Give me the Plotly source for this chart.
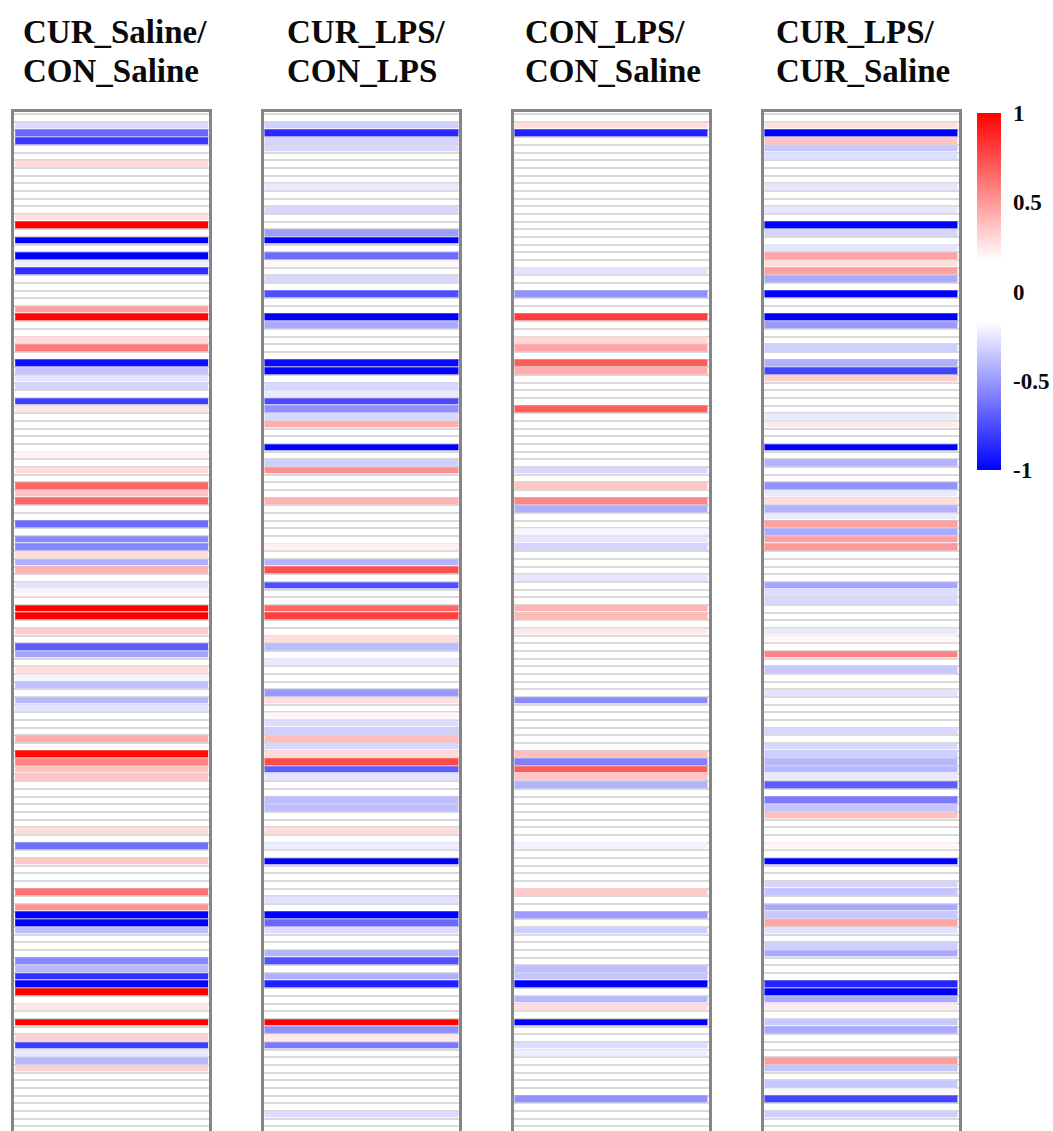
import plotly.graph_objects as go

titles = [["CUR_Saline/", "CON_Saline"], ["CUR_LPS/", "CON_LPS"],
          ["CON_LPS/", "CON_Saline"], ["CUR_LPS/", "CUR_Saline"]]
title_x = [21, 285, 523, 774]
frame_l = [14.2, 263.5, 513.5, 763.5]
frame_r = [209.2, 459.2, 708.5, 958.5]

cur_saline_con_saline = [
 0,-.29,-.66,-.82,0,0,.29,0,0,0,
 0,0,0,.27,1,0,-1,0,-1,-.23,
 -.85,0,0,0,0,.48,.98,0,0,.29,
 .6,0,-.95,-.36,-.26,-.31,0,-.8,.26,0,
 0,0,0,0,.21,0,.28,0,.67,.37,
 .67,0,0,-.65,0,-.56,-.56,.28,-.43,.42,
 0,-.26,.2,0,1,1,0,.34,0,-.7,
 -.46,0,.28,-.21,-.37,0,-.4,-.27,0,0,
 0,.44,0,.97,.58,.37,.37,0,0,0,
 0,0,0,.28,0,-.63,0,.36,0,0,
 0,.63,0,.53,-1,-1,-.38,0,0,0,
 -.56,-.4,-.85,-1,1,0,.25,0,1,0,
 .32,-.8,-.24,-.4,.32,0,0,0,0,0,
 0,0,0]
cur_lps_con_lps = [
 0,-.33,-.87,-.31,-.3,0,0,0,0,-.24,
 0,0,-.3,0,0,-.49,-1,0,-.65,.2,
 0,-.3,0,-.74,0,0,-1,-.45,0,0,
 0,0,-.97,-1,0,-.3,-.24,-.76,-.53,-.3,
 .44,0,0,-1,0,-.33,.53,0,0,0,
 .42,0,0,0,0,0,.22,0,-.42,.74,
 0,-.74,0,0,.67,.8,0,0,.28,-.39,
 0,-.24,0,0,0,-.5,.28,0,.2,-.28,
 -.33,.38,-.3,.29,.76,-.7,-.26,0,0,-.38,
 -.38,0,0,.28,0,-.23,0,-1,0,0,
 0,0,-.27,0,-1,-.66,-.28,0,0,-.42,
 -.74,0,-.43,-.9,0,0,0,0,1,-.53,
 .24,-.6,0,0,0,0,0,0,0,0,
 -.28,0,0]
con_lps_con_saline = [
 0,.28,-.9,0,0,0,0,0,0,0,
 0,0,0,0,0,0,0,0,0,0,
 -.26,0,0,-.53,0,0,.8,0,0,.3,
 .46,0,.7,.44,0,0,0,0,.7,0,
 0,0,0,0,0,0,-.3,0,.36,0,
 .56,-.43,0,0,-.2,-.25,-.31,0,0,0,
 -.25,0,0,0,.42,.4,0,.25,0,0,
 0,0,0,0,0,0,-.55,0,0,0,
 0,0,0,.38,-.58,.7,.36,-.42,0,0,
 0,0,0,0,0,-.21,0,0,0,0,
 0,.34,0,0,-.49,0,-.33,0,0,0,
 0,-.38,-.36,-1,0,-.4,.28,0,-1,0,
 0,-.28,-.23,0,0,0,0,0,-.53,0,
 0,0,0]
cur_lps_cur_saline = [
 0,.27,-1,.36,-.35,-.28,0,0,0,-.25,
 0,0,-.25,0,-1,-.31,0,-.25,.46,.28,
 .48,-.45,0,-1,0,0,-1,-.5,0,0,
 -.33,0,-.43,-.78,.34,0,0,0,0,-.24,
 .24,0,0,-1,0,-.42,0,0,-.52,-.24,
 .28,-.42,-.24,.48,-.45,.48,.5,0,0,0,
 0,-.46,-.28,-.3,0,0,0,-.24,.2,0,
 .58,0,-.35,0,0,-.26,0,0,0,0,
 -.3,0,-.3,-.33,-.4,-.4,-.24,-.7,0,-.6,
 -.36,.37,0,0,0,.2,0,-1,0,0,
 -.31,-.36,0,-.45,-.35,.46,-.27,0,-.33,-.45,
 0,0,0,-.88,-1,-.45,.23,0,-.35,-.45,
 0,0,0,.48,-.36,0,-.35,-.2,-.78,0,
 -.33,0,0]
panels = [cur_saline_con_saline, cur_lps_con_lps, con_lps_con_saline, cur_lps_cur_saline]

color_ticks = [-1, -0.5, 0, 0.5, 1]
W, H = 1053, 1131
TOP = 112.2
FONT = "Liberation Serif"

def t(v):
    return (v + 1) / 2

colorscale = [[t(-1), "#0000ff"], [t(-0.5), "#9999ff"], [t(-0.2), "#f6f6ff"], [t(-0.17), "#ffffff"],
              [t(0.17), "#ffffff"], [t(0.2), "#fff6f6"], [t(0.5), "#ff9999"], [t(1), "#ff0000"]]

fig = go.Figure()
layout = {}
annotations = []
for i, vals in enumerate(panels):
    suffix = "" if i == 0 else str(i + 1)
    fig.add_trace(go.Heatmap(
        # zero rows stay empty so the white ground and full separator lines show through
        z=[[v if v != 0 else None] for v in vals], x=[0], y=list(range(len(vals))),
        coloraxis="coloraxis", ygap=1, xaxis="x" + suffix, yaxis="y" + suffix,
        hoverinfo="skip"))
    layout["xaxis" + suffix] = dict(
        domain=[frame_l[i] / W, frame_r[i] / W], range=[-0.505, 0.505], side="top",
        showline=True, linecolor="#858585", linewidth=3, showgrid=False, zeroline=False,
        showticklabels=False, ticks="", anchor="y" + suffix)
    layout["yaxis" + suffix] = dict(
        domain=[0, 1 - TOP / H], range=[132.1, -0.77], tickmode="linear", tick0=0.5, dtick=1,
        showline=True, mirror=True, linecolor="#858585", linewidth=3,
        showgrid=True, gridcolor="#dadada", gridwidth=2, zeroline=False,
        showticklabels=False, ticks="", anchor="x" + suffix)
    for line, py in zip(titles[i], [32, 71]):
        annotations.append(dict(
            text="<b>%s</b>" % line, xref="paper", yref="paper", x=title_x[i] / W, y=1 - py / H,
            xanchor="left", yanchor="middle", showarrow=False,
            font=dict(family=FONT, size=33, color="#0a0a0a")))

fig.update_layout(
    width=W, height=H, autosize=False, margin=dict(l=0, r=0, t=0, b=0),
    paper_bgcolor="white", plot_bgcolor="white", showlegend=False, annotations=annotations,
    coloraxis=dict(cmin=-1, cmax=1, colorscale=colorscale, colorbar=dict(
        x=977 / W, xanchor="left", xpad=0, y=1 - 291.5 / H, yanchor="middle", ypad=0,
        len=357, lenmode="pixels", thickness=24, thicknessmode="pixels", outlinewidth=0,
        tickmode="array", tickvals=color_ticks, ticktext=["<b>%s</b>" % v for v in ["-1", "-0.5", "0", "0.5", "1"]],
        ticks="outside", ticklen=8, tickcolor="rgba(0,0,0,0)",
        tickfont=dict(family=FONT, size=23, color="#0a0a0a"))),
    **layout)

fig.write_html("out.html", config={"displayModeBar": False},
               post_script="document.body.style.margin='0';document.body.style.overflow='hidden';")
